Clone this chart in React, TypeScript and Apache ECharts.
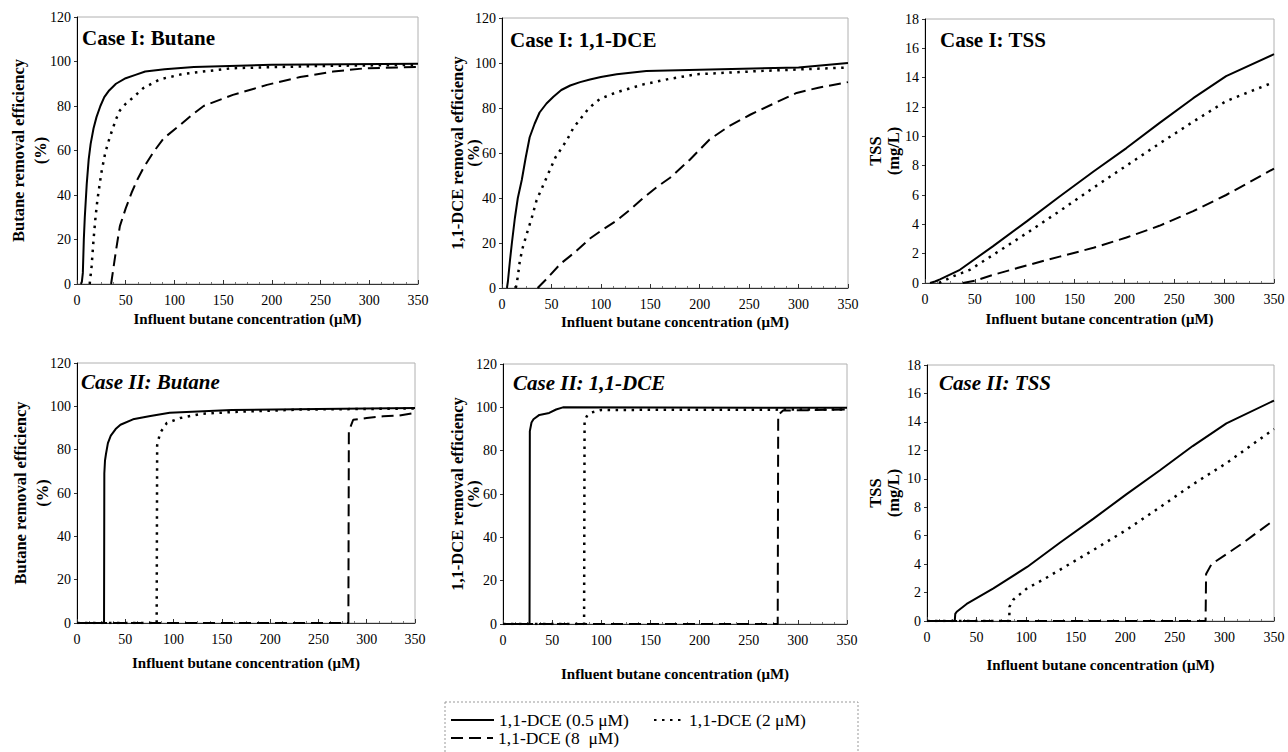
import React, { useEffect, useRef } from "react";
import * as echarts from "echarts";

// ---- Data (x: influent butane concentration µM, y: value) ----
const SERIES_NAMES = ["1,1-DCE (0.5 μM)", "1,1-DCE (2 μM)", "1,1-DCE (8  μM)"];

const c1ButaneLow = [[4,0],[5,1],[6,5],[7,20],[8,30],[10,45],[12,56],[14,63],[17,70],[20,75],[24,80],[28,84],[33,87],[40,90],[50,92.5],[60,94],[70,95.5],[90,96.5],[120,97.5],[200,98.5],[350,99]];
const c1ButaneMid = [[13,0],[15,8],[17,20],[19,30],[21,38],[25,50],[29,59],[33,65],[36,69],[40,74],[44,78],[50,81],[58,84],[68,88],[85,92],[110,94.5],[160,97],[250,98],[350,98.5]];
const c1ButaneHigh = [[35,0],[40,15],[44,26],[50,34],[56,41],[62,47],[68,52],[78,59],[89,65.5],[106,71.5],[118,76],[130,80],[160,85],[195,89.5],[229,93],[263,95.5],[297,97],[350,97.5]];

const c1DceLow = [[5,0],[6,3],[8,12],[10,20],[13,31],[16,40],[20,48],[24,58],[28,67],[33,73],[38,78],[45,82],[52,85],[60,88],[69,90],[79,91.5],[89,92.7],[100,93.8],[116,95],[146,96.4],[200,97],[300,98],[350,100]];
const c1DceMid = [[14,0],[16,5],[18,12],[21,18],[25,24],[30,31],[35,39],[40,44],[44,48],[49,53],[54,58],[60,62],[66,66],[72,71],[79,75],[88,80],[99,84],[116,87],[143,90.5],[170,93],[197,95],[264,96.5],[350,98]];
const c1DceHigh = [[36,0],[45,4],[59,10.7],[74,16],[89,22],[102,26],[116,30],[130,35],[143,40],[157,45],[170,49],[190,57],[210,66],[230,72],[251,77],[275,82],[298,86.7],[320,89],[350,91.5]];

const c1TssLow = [[5,0],[10,0.1],[15,0.25],[35,0.9],[68,2.5],[102,4.2],[135,5.9],[169,7.6],[202,9.2],[235,10.9],[269,12.6],[302,14.1],[350,15.6]];
const c1TssMid = [[14,0],[28,0.45],[45,0.9],[68,1.9],[102,3.4],[135,4.9],[169,6.5],[202,8.0],[235,9.5],[269,11],[302,12.4],[350,13.7]];
const c1TssHigh = [[38,0],[50,0.15],[68,0.55],[102,1.2],[135,1.8],[169,2.4],[202,3.1],[235,3.9],[269,4.9],[302,6.0],[350,7.8]];

const c2ButaneLow = [[0,0],[28,0],[28.3,69],[29,75],[30,78],[32,83],[35,86.5],[40,89.5],[45,91.5],[58,94],[76,95.5],[96,97],[160,98.3],[250,98.8],[350,99.2]];
const c2ButaneMid = [[0,0],[82.5,0],[83,82],[86,87.7],[93,92.3],[107,94.6],[128,96.5],[162,97.4],[231,98.5],[350,99]];
const c2ButaneHigh = [[0,0],[281,0],[281.5,88.5],[286,93.8],[300,94.6],[317,95.4],[334,95.8],[350,97]];

const c2DceLow = [[0,0],[27,0],[27.3,89],[29,93],[31,94.5],[37,96.5],[47,97.4],[54,99],[61,100],[350,99.8]];
const c2DceMid = [[0,0],[82.5,0],[83,94],[86,96.5],[90,97.6],[100,98.8],[350,99]];
const c2DceHigh = [[0,0],[279.5,0],[280,96.5],[285,98.5],[350,99]];

const c2TssLow = [[0,0],[28,0],[28.5,0.5],[30,0.65],[40,1.2],[67,2.3],[101,3.8],[134,5.5],[168,7.2],[201,8.9],[235,10.6],[268,12.3],[302,13.9],[350,15.5]];
const c2TssMid = [[0,0],[83,0],[83.2,1],[87,1.5],[101,2.3],[117,2.9],[134,3.6],[168,5],[201,6.4],[235,8],[268,9.6],[302,11.1],[350,13.5]];
const c2TssHigh = [[0,0],[281,0],[281.5,3.3],[287,4],[302,4.7],[319,5.5],[350,7.1]];

const PANEL_TITLES = ["Case I: Butane", "Case I: 1,1-DCE", "Case I: TSS", "Case II: Butane", "Case II: 1,1-DCE", "Case II: TSS"];
const Y_NAMES = [
  "Butane removal efficiency\n(%)",
  "1,1-DCE removal efficiency\n(%)",
  "TSS\n(mg/L)",
  "Butane removal efficiency\n(%)",
  "1,1-DCE removal efficiency\n(%)",
  "TSS\n(mg/L)",
];
const X_NAME = "Influent butane concentration (μM)";
const X_MIN = 0, X_MAX = 350, X_STEP = 50;
const PCT_MAX = 120, PCT_STEP = 20;
const TSS_MAX = 18, TSS_STEP = 2;

const PANEL_DATA = [
  [c1ButaneLow, c1ButaneMid, c1ButaneHigh],
  [c1DceLow, c1DceMid, c1DceHigh],
  [c1TssLow, c1TssMid, c1TssHigh],
  [c2ButaneLow, c2ButaneMid, c2ButaneHigh],
  [c2DceLow, c2DceMid, c2DceHigh],
  [c2TssLow, c2TssMid, c2TssHigh],
];
const IS_TSS = [false, false, true, false, false, true];

// ---- Layout ----
const FONT = "Liberation Serif";
const GRIDS = [
  { left: 77, top: 17, width: 341, height: 267 },
  { left: 502, top: 18, width: 346, height: 270 },
  { left: 925, top: 19, width: 349, height: 264 },
  { left: 77, top: 363, width: 338, height: 260 },
  { left: 503, top: 364, width: 344, height: 260 },
  { left: 927, top: 365, width: 347, height: 256 },
];
const TITLE_POS = [
  { left: 82, top: 27 },
  { left: 510, top: 29 },
  { left: 940, top: 29 },
  { left: 81, top: 371 },
  { left: 513, top: 372 },
  { left: 939, top: 372 },
];
const X_NAME_GAP = [27, 26, 28, 32, 42, 36];
const Y_NAME_GAP = [26, 21, 23, 24, 22, 25];
const Y_NAME_LH = [22, 16, 18, 22, 16, 18];

const LINE_STYLES = [
  { type: "solid", width: 2 },
  { type: [2.5, 5.5], width: 2.5 },
  { type: [12, 6], width: 2 },
];

export default function App() {
  const ref = useRef<HTMLDivElement>(null);
  useEffect(() => {
    document.body.style.margin = "0";
    if (!ref.current) return;
    const chart = echarts.init(ref.current, null, { renderer: "svg" });

    const series: any[] = [];
    PANEL_DATA.forEach((lines, i) => {
      lines.forEach((data, k) => {
        series.push({
          type: "line",
          name: SERIES_NAMES[k],
          xAxisIndex: i,
          yAxisIndex: i,
          data,
          showSymbol: false,
          symbol: "none",
          smooth: false,
          lineStyle: { color: "#000", ...LINE_STYLES[k] },
          itemStyle: { color: "#000" },
          z: 3 - k,
        });
      });
    });

    const option: any = {
      animation: false,
      backgroundColor: "#fff",
      textStyle: { fontFamily: FONT, color: "#000" },
      title: PANEL_TITLES.map((t, i) => ({
        text: t,
        left: TITLE_POS[i].left,
        top: TITLE_POS[i].top,
        padding: 0,
        textStyle: {
          fontFamily: FONT,
          fontSize: 21,
          fontWeight: "bold",
          fontStyle: i >= 3 ? "italic" : "normal",
          color: "#000",
        },
      })),
      grid: GRIDS.map((g) => ({
        ...g,
        show: true,
        borderColor: "#b0b0b0",
        borderWidth: 1,
        backgroundColor: "transparent",
      })),
      xAxis: GRIDS.map((_, i) => ({
        type: "value",
        gridIndex: i,
        min: X_MIN,
        max: X_MAX,
        interval: X_STEP,
        name: X_NAME,
        nameLocation: "middle",
        nameGap: X_NAME_GAP[i],
        nameTextStyle: { fontFamily: FONT, fontSize: 15, fontWeight: "bold", color: "#000" },
        axisLine: { show: true, onZero: false, lineStyle: { color: "#333", width: 1 } },
        axisTick: { show: true, inside: true, length: 4, lineStyle: { color: "#333" } },
        minorTick: { show: true, splitNumber: 4, length: 2, lineStyle: { color: "#777" } },
        axisLabel: { fontFamily: FONT, fontSize: 14, color: "#000", margin: 9 },
        splitLine: { show: false },
      })),
      yAxis: GRIDS.map((_, i) => ({
        type: "value",
        gridIndex: i,
        min: 0,
        max: IS_TSS[i] ? TSS_MAX : PCT_MAX,
        interval: IS_TSS[i] ? TSS_STEP : PCT_STEP,
        name: Y_NAMES[i],
        nameLocation: "middle",
        nameRotate: 90,
        nameGap: Y_NAME_GAP[i],
        nameMoveOverlap: false,
        nameTextStyle: { fontFamily: FONT, fontSize: 16.5, fontWeight: "bold", color: "#000", lineHeight: Y_NAME_LH[i] },
        axisLine: { show: true, lineStyle: { color: "#000", width: 1 } },
        axisTick: { show: true, inside: false, length: 3, lineStyle: { color: "#333" } },
        axisLabel: { fontFamily: FONT, fontSize: 14, color: "#000", margin: 6 },
        splitLine: { show: false },
      })),
      legend: [
        { data: [SERIES_NAMES[0]], left: 450, top: 711, itemWidth: 43 },
        { data: [SERIES_NAMES[1]], left: 653, top: 711, itemWidth: 30 },
        { data: [SERIES_NAMES[2]], left: 450, top: 729, itemWidth: 42 },
      ].map((l) => ({
        ...l,
        padding: 0,
        itemHeight: 10,
        itemGap: 5,
        selectedMode: false,
        itemStyle: { opacity: 0 },
        textStyle: { fontFamily: FONT, fontSize: 17.5, color: "#000", lineHeight: 18 },
      })),
      graphic: [
        {
          type: "rect",
          shape: { x: 445, y: 702, width: 413, height: 60 },
          style: { fill: "none", stroke: "#999", lineWidth: 1, lineDash: [2, 2] },
          silent: true,
        },
      ],
      series,
    };
    chart.setOption(option);
    return () => chart.dispose();
  }, []);
  return <div ref={ref} style={{ width: 1288, height: 752 }} />;
}
